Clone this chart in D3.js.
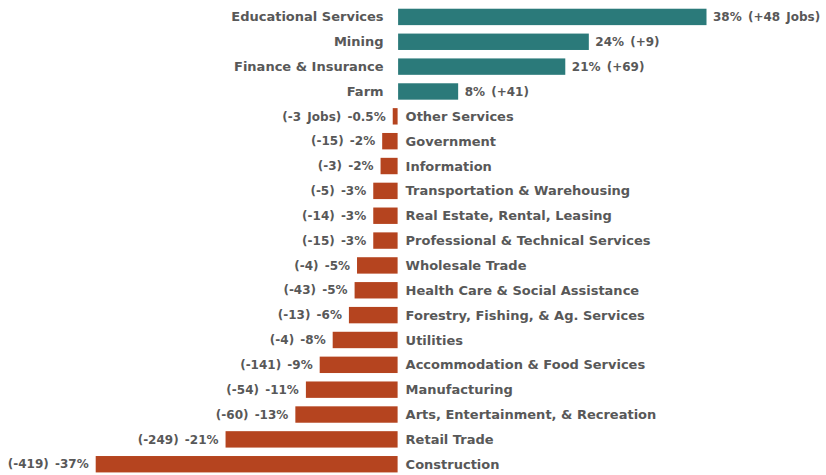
<!DOCTYPE html>
<html>
<head>
<meta charset="utf-8">
<script src="https://cdn.jsdelivr.net/npm/d3@7"></script>
<style>
  body { margin: 0; background: #fff; }
  text { font-family: "DejaVu Sans", sans-serif; font-weight: bold; fill: #585858; }
</style>
</head>
<body>
<div id="chart"></div>
<script>
// industries, top to bottom
var categories = [
    "Educational Services", "Mining", "Finance & Insurance", "Farm",
    "Other Services", "Government", "Information", "Transportation & Warehousing",
    "Real Estate, Rental, Leasing", "Professional & Technical Services", "Wholesale Trade",
    "Health Care & Social Assistance", "Forestry, Fishing, & Ag. Services", "Utilities",
    "Accommodation & Food Services", "Manufacturing", "Arts, Entertainment, & Recreation",
    "Retail Trade", "Construction"
];
// % change as drawn by the bars
var pctChange = [38, 23.5, 20.6, 7.4, -0.6, -1.9, -2.1, -3, -3, -3, -5, -5.3, -6, -8, -9.6, -11.3, -12.6, -21.2, -37.2];
// printed labels
var pctLabels = ["38%", "24%", "21%", "8%", "-0.5%", "-2%", "-2%", "-3%", "-3%", "-3%", "-5%", "-5%", "-6%", "-8%", "-9%", "-11%", "-13%", "-21%", "-37%"];
var jobLabels = ["(+48 Jobs)", "(+9)", "(+69)", "(+41)", "(-3 Jobs)", "(-15)", "(-3)", "(-5)", "(-14)", "(-15)", "(-4)", "(-43)", "(-13)", "(-4)", "(-141)", "(-54)", "(-60)", "(-249)", "(-419)"];

var width = 826, height = 475;
var teal = "#2b7a7a", rust = "#b5441f";

var data = categories.map(function (c, i) {
    return { name: c, value: pctChange[i], pct: pctLabels[i], jobs: jobLabels[i] };
});

var svg = d3.select("#chart").append("svg")
    .attr("width", width)
    .attr("height", height);

var x = d3.scaleLinear().domain([-37.2, 38]).range([95.7, 706]);
var y = d3.scaleBand().domain(categories)
    .range([4.5, 4.5 + 19 * 24.85])
    .paddingInner(0.34)
    .paddingOuter(0.17);
var x0 = x(0);

var row = svg.selectAll("g.row")
    .data(data)
    .enter().append("g")
    .attr("class", "row")
    .attr("transform", function (d) { return "translate(0," + y(d.name) + ")"; });

row.append("rect")
    .attr("x", function (d) { return d.value < 0 ? x(d.value) : x0 + 0.5; })
    .attr("width", function (d) { return Math.abs(x(d.value) - x0); })
    .attr("height", y.bandwidth())
    .attr("fill", function (d) { return d.value < 0 ? rust : teal; });

var mid = y.bandwidth() / 2;

// category names sit on the other side of zero
row.append("text")
    .attr("x", function (d) { return d.value < 0 ? x0 + 8 : x0 - 14; })
    .attr("y", mid)
    .attr("dy", ".35em")
    .attr("text-anchor", function (d) { return d.value < 0 ? "start" : "end"; })
    .style("font-size", "13px")
    .text(function (d) { return d.name; });

// value labels at the bar end
row.append("text")
    .attr("x", function (d) { return d.value < 0 ? x(d.value) - 7 : x(d.value) + 7; })
    .attr("y", mid)
    .attr("dy", ".35em")
    .attr("text-anchor", function (d) { return d.value < 0 ? "end" : "start"; })
    .style("font-size", "12px")
    .style("word-spacing", "2px")
    .text(function (d) {
        return d.value < 0 ? d.jobs + " " + d.pct : d.pct + " " + d.jobs;
    });
</script>
</body>
</html>
